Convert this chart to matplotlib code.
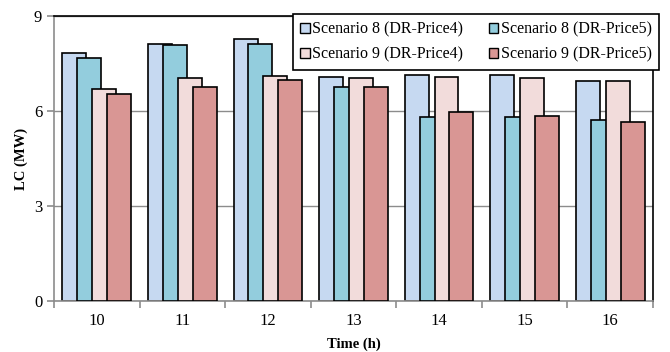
import numpy as np
import matplotlib
matplotlib.use("Agg")
import matplotlib.pyplot as plt
from matplotlib.patches import Patch

hours = ["10", "11", "12", "13", "14", "15", "16"]
s8_price4 = [7.82, 8.12, 8.27, 7.06, 7.15, 7.15, 6.95]
s8_price5 = [7.66, 8.07, 8.12, 6.76, 5.82, 5.82, 5.71]
s9_price4 = [6.68, 7.04, 7.11, 7.05, 7.07, 7.05, 6.95]
s9_price5 = [6.53, 6.77, 6.97, 6.76, 5.97, 5.84, 5.66]
labels = ["Scenario 8 (DR-Price4)", "Scenario 8 (DR-Price5)",
          "Scenario 9 (DR-Price4)", "Scenario 9 (DR-Price5)"]
colors = ["#C6D9F1", "#93CDDD", "#F2DCDB", "#D99694"]

plt.rcParams["font.family"] = ["Liberation Serif", "DejaVu Serif"]

fig = plt.figure(figsize=(6.7, 3.52), dpi=100)
ax = fig.add_axes([0.0806, 0.1449, 0.894, 0.8096])

x = np.arange(len(hours))
step = 0.174
width = 0.28
series = [s8_price4, s8_price5, s9_price4, s9_price5]
for i, (vals, c) in enumerate(zip(series, colors)):
    ax.bar(x + (i - 1.5) * step, vals, width=width, color=c,
           edgecolor="black", linewidth=1.2, zorder=2 + i)

ax.set_xlim(-0.5, len(hours) - 0.5)
ax.set_ylim(0, 9)
ax.set_yticks([0, 3, 6, 9])
ax.yaxis.grid(True, color="#8c8c8c", linewidth=1.0, zorder=0)
ax.set_axisbelow(True)

ax.set_xticks(x)
ax.set_xticklabels(hours)
ax.set_xticks(np.arange(-0.5, len(hours)), minor=True)
ax.tick_params(axis="x", which="major", length=0, labelsize=12, pad=9)
ax.tick_params(axis="x", which="minor", length=5, color="#8c8c8c", width=1.2)
ax.tick_params(axis="y", length=5, color="#8c8c8c", width=1.2, labelsize=12)

for side in ["left", "bottom"]:
    ax.spines[side].set_color("#8c8c8c")
    ax.spines[side].set_linewidth(1.2)
for side in ["top", "right"]:
    ax.spines[side].set_color("black")
    ax.spines[side].set_linewidth(1.2)

ax.set_xlabel("Time (h)", fontsize=10.5, fontweight="bold", labelpad=6)
ax.set_ylabel("LC (MW)", fontsize=10.5, fontweight="bold", labelpad=4)

handles = [Patch(facecolor=c, edgecolor="black", linewidth=1.0) for c in colors]
order = [0, 2, 1, 3]
leg = ax.legend([handles[i] for i in order], [labels[i] for i in order],
                ncol=2, loc="upper right", bbox_to_anchor=(0.9836, 0.960),
                bbox_transform=fig.transFigure,
                fontsize=11.5, frameon=True, fancybox=False, framealpha=1,
                edgecolor="black", handlelength=0.6, handleheight=0.6,
                handletextpad=0.15, columnspacing=1.6, borderpad=0.45,
                labelspacing=0.6, borderaxespad=0)
leg.get_frame().set_linewidth(1.2)
leg.set_zorder(10)

fig.savefig("out.png", dpi=100)
